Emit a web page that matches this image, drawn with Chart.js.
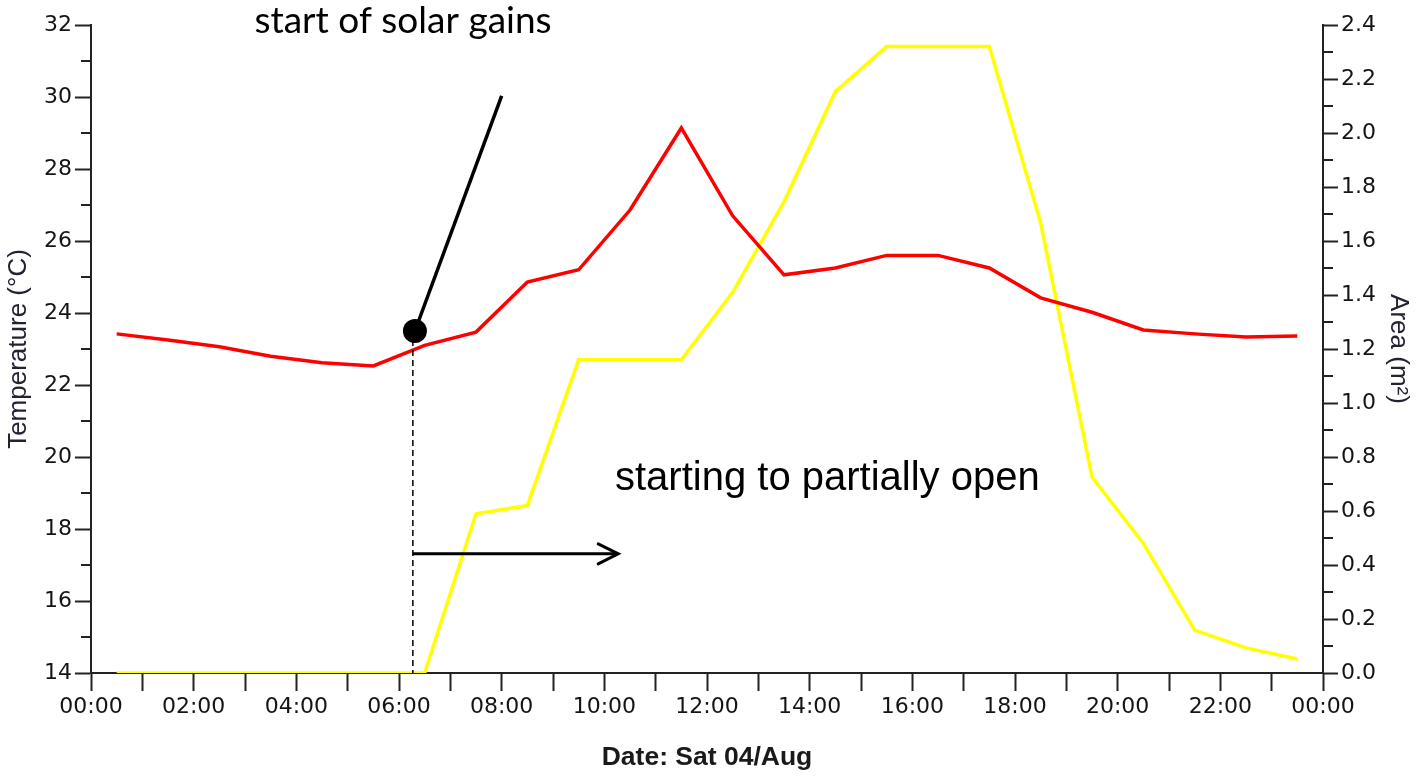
<!DOCTYPE html>
<html>
<head>
<meta charset="utf-8">
<script src="https://cdn.jsdelivr.net/npm/chart.js@4.4.1/dist/chart.umd.min.js"></script>
<style>
  html, body { margin: 0; padding: 0; background: #ffffff; }
  #wrap { width: 1416px; height: 776px; }
</style>
</head>
<body>
<div id="wrap"><canvas id="chart" width="1416" height="776"></canvas></div>
<script>
// Hourly readings, logged at half past each hour (hours since midnight)
const hours = [0.5, 1.5, 2.5, 3.5, 4.5, 5.5, 6.5, 7.5, 8.5, 9.5, 10.5, 11.5,
               12.5, 13.5, 14.5, 15.5, 16.5, 17.5, 18.5, 19.5, 20.5, 21.5, 22.5, 23.5];

// Zone air temperature (°C)
const temperature = [23.42, 23.25, 23.06, 22.80, 22.62, 22.53, 23.10, 23.47, 24.86, 25.20, 26.86, 29.14,
                     26.70, 25.06, 25.25, 25.60, 25.60, 25.25, 24.42, 24.02, 23.53, 23.42, 23.33, 23.36];

// Window opening area (m²)
const area = [0, 0, 0, 0, 0, 0, 0, 0.59, 0.62, 1.16, 1.16, 1.16,
              1.41, 1.745, 2.153, 2.32, 2.32, 2.32, 1.667, 0.726, 0.48, 0.159, 0.093, 0.052];

// Axis ranges and tick spacing
const timeRange = [0, 24];
const tempRange = [14, 32];
const areaRange = [0, 2.4];
const timeLabelEvery = 2;

// Annotation anchors, in axis units (hour, °C)
const solarGainsStart = { hour: 6.31, temp: 23.5 };
const pointerEnd = { hour: 8.0, temp: 30.03 };
const openingStart = { hour: 6.27, temp: 17.31, arrowTo: 10.27 };

const AXIS_COLOR = '#222222';
const LABEL_COLOR = '#141414';

function hhmm(h) {
  const v = Math.round(h) % 24;
  return (v < 10 ? '0' : '') + v + ':00';
}

const toPoints = (ys) => hours.map((h, i) => ({ x: h, y: ys[i] }));

// Minor ticks between the labelled ticks on both value axes
const minorTicks = {
  id: 'minorTicks',
  afterDraw(chart) {
    const ctx = chart.ctx;
    ctx.save();
    ctx.strokeStyle = AXIS_COLOR;
    ctx.lineWidth = 2;
    const yL = chart.scales.y;
    for (let v = tempRange[0] + 1; v < tempRange[1]; v += 2) {
      const p = Math.round(yL.getPixelForValue(v));
      ctx.beginPath();
      ctx.moveTo(yL.right - 10, p);
      ctx.lineTo(yL.right, p);
      ctx.stroke();
    }
    const yR = chart.scales.y1;
    for (let k = 1; k < 24; k += 2) {
      const p = Math.round(yR.getPixelForValue(k / 10));
      ctx.beginPath();
      ctx.moveTo(yR.left, p);
      ctx.lineTo(yR.left + 10, p);
      ctx.stroke();
    }
    ctx.restore();
  }
};

// Callouts: solar gain marker, opening arrow and their captions
const callouts = {
  id: 'callouts',
  afterDatasetsDraw(chart) {
    const ctx = chart.ctx;
    const x = chart.scales.x, y = chart.scales.y;
    ctx.save();
    ctx.strokeStyle = '#000';
    ctx.fillStyle = '#000';

    // dashed drop line from the marker to the time axis
    const dx = x.getPixelForValue(openingStart.hour);
    ctx.setLineDash([6, 4]);
    ctx.lineWidth = 1.5;
    ctx.beginPath();
    ctx.moveTo(dx, y.getPixelForValue(23.25));
    ctx.lineTo(dx, y.getPixelForValue(tempRange[0]));
    ctx.stroke();
    ctx.setLineDash([]);

    // pointer and dot
    const px = x.getPixelForValue(solarGainsStart.hour);
    const py = y.getPixelForValue(solarGainsStart.temp);
    ctx.lineWidth = 3.5;
    ctx.beginPath();
    ctx.moveTo(x.getPixelForValue(pointerEnd.hour), y.getPixelForValue(pointerEnd.temp));
    ctx.lineTo(px, py);
    ctx.stroke();
    ctx.beginPath();
    ctx.arc(px, py, 12, 0, Math.PI * 2);
    ctx.fill();

    // arrow towards the opening period
    const ay = y.getPixelForValue(openingStart.temp);
    const ax2 = x.getPixelForValue(openingStart.arrowTo);
    ctx.lineWidth = 3;
    ctx.beginPath();
    ctx.moveTo(dx, ay);
    ctx.lineTo(ax2, ay);
    ctx.stroke();
    ctx.beginPath();
    ctx.moveTo(ax2 - 20, ay - 10);
    ctx.lineTo(ax2, ay);
    ctx.lineTo(ax2 - 20, ay + 10);
    ctx.lineCap = 'round';
    ctx.lineJoin = 'miter';
    ctx.stroke();

    // captions
    ctx.textBaseline = 'alphabetic';
    ctx.textAlign = 'center';
    ctx.font = '37px Lato';
    ctx.fillText('start of solar gains', 403, 33);
    ctx.textAlign = 'left';
    ctx.font = '40px "Liberation Sans"';
    ctx.fillText('starting to partially open', 615, 490);
    ctx.restore();
  }
};

const tickFont = { family: 'DejaVu Sans', size: 22 };
const titleFont = { family: 'Liberation Sans', size: 26 };

new Chart(document.getElementById('chart'), {
  type: 'line',
  data: {
    datasets: [
      {
        label: 'Temperature (°C)',
        data: toPoints(temperature),
        yAxisID: 'y',
        borderColor: '#ff0000',
        borderWidth: 3.5,
        pointRadius: 0,
        tension: 0,
        fill: false
      },
      {
        label: 'Area (m²)',
        data: toPoints(area),
        yAxisID: 'y1',
        borderColor: '#ffff00',
        borderWidth: 3.5,
        pointRadius: 0,
        tension: 0,
        fill: false
      }
    ]
  },
  options: {
    responsive: false,
    animation: false,
    devicePixelRatio: 1,
    layout: { padding: { top: 25, left: 0, right: 0, bottom: 0 } },
    plugins: {
      legend: { display: false },
      tooltip: { enabled: false },
      title: { display: false }
    },
    scales: {
      x: {
        type: 'linear',
        position: 'bottom',
        min: timeRange[0],
        max: timeRange[1],
        afterFit: (s) => { s.height = 103; },
        border: { display: true, color: AXIS_COLOR, width: 2 },
        grid: { display: true, drawOnChartArea: false, drawTicks: true, tickLength: 18, tickColor: AXIS_COLOR, tickWidth: 2 },
        ticks: {
          stepSize: 1,
          autoSkip: false,
          maxRotation: 0,
          minRotation: 0,
          padding: 3,
          color: LABEL_COLOR,
          font: tickFont,
          callback: (v) => (Math.round(v) % timeLabelEvery === 0 ? hhmm(v) : '')
        },
        title: {
          display: true,
          text: 'Date: Sat 04/Aug',
          color: '#1a1a1a',
          font: { family: 'Liberation Sans', size: 26.5, weight: 'bold' },
          padding: { top: 0, bottom: 2 }
        }
      },
      y: {
        type: 'linear',
        position: 'left',
        min: tempRange[0],
        max: tempRange[1],
        afterFit: (s) => { s.width = 91; },
        border: { display: true, color: AXIS_COLOR, width: 2 },
        grid: { display: true, drawOnChartArea: false, drawTicks: true, tickLength: 16, tickColor: AXIS_COLOR, tickWidth: 2 },
        ticks: { stepSize: 2, padding: 3, color: LABEL_COLOR, font: tickFont },
        title: {
          display: true,
          text: 'Temperature (°C)',
          color: '#222233',
          font: titleFont,
          padding: { top: 3, bottom: 0 }
        }
      },
      y1: {
        type: 'linear',
        position: 'right',
        min: areaRange[0],
        max: areaRange[1],
        afterFit: (s) => { s.width = 93; },
        border: { display: true, color: AXIS_COLOR, width: 2 },
        grid: { display: true, drawOnChartArea: false, drawTicks: true, tickLength: 15, tickColor: AXIS_COLOR, tickWidth: 2 },
        ticks: { stepSize: 0.2, padding: 3, color: LABEL_COLOR, font: tickFont, callback: (v) => v.toFixed(1) },
        title: {
          display: true,
          text: 'Area (m²)',
          color: '#222233',
          font: titleFont,
          padding: { top: 2, bottom: 0 }
        }
      }
    }
  },
  plugins: [minorTicks, callouts]
});
</script>
</body>
</html>
